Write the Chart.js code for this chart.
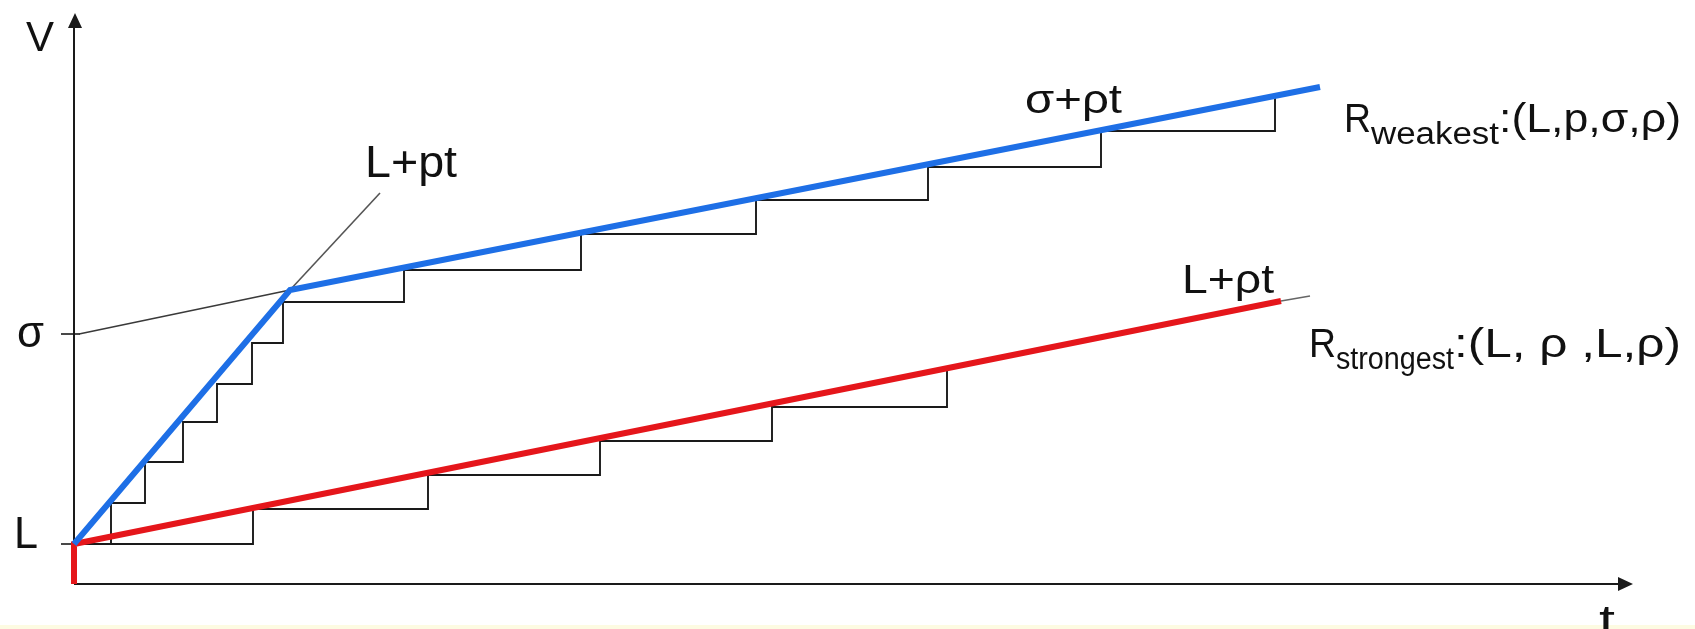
<!DOCTYPE html>
<html>
<head>
<meta charset="utf-8">
<script src="https://cdn.jsdelivr.net/npm/chart.js@4.4.1/dist/chart.umd.min.js"></script>
<style>
  html, body { margin: 0; padding: 0; background: #fff; overflow: hidden; }
  #wrap { position: relative; width: 1695px; height: 629px; }
</style>
</head>
<body>
<div id="wrap"><canvas id="chart"></canvas></div>
<script>
// t along the horizontal axis, V up the vertical one (arbitrary units)
const tMax = 155.9;
const vMax = 57.1;

const yTickValues = [4.0, 25.0];
const yTickLabels = ["L", "σ"];

// the two rate lines
const weakestT = [0, 21.6, 124.6];
const weakestV = [4.0, 29.4, 49.7];
const strongestT = [0, 0, 120.7];
const strongestV = [0, 4.0, 28.3];

// thin guides: sigma+rho*t back to the axis, L+pt past the bend, L+rho*t past the red end
const sigmaGuideT = [0.5, 21.6];
const sigmaGuideV = [25.0, 29.4];
const fastGuideT = [21.6, 30.6];
const fastGuideV = [29.4, 39.1];
const slowGuideT = [120.7, 123.6];
const slowGuideV = [28.3, 28.8];

// staircases (corner points)
const weakStepT = [0, 3.7, 3.7, 7.1, 7.1, 10.9, 10.9, 14.3, 14.3, 17.8, 17.8, 20.9, 20.9, 33.0, 33.0, 50.7, 50.7, 68.2, 68.2, 85.4, 85.4, 102.7, 102.7, 120.1, 120.1];
const weakStepV = [4.0, 4.0, 8.1, 8.1, 12.2, 12.2, 16.2, 16.2, 20.0, 20.0, 24.1, 24.1, 28.2, 28.2, 31.4, 31.4, 35.0, 35.0, 38.4, 38.4, 41.7, 41.7, 45.3, 45.3, 48.9];
const strongStepT = [0, 17.9, 17.9, 35.4, 35.4, 52.6, 52.6, 69.8, 69.8, 87.3, 87.3];
const strongStepV = [4.0, 4.0, 7.5, 7.5, 10.9, 10.9, 14.3, 14.3, 17.7, 17.7, 21.4];

const FONT = '"Liberation Sans", Arial, sans-serif';
const INK = "#111";

function pts(ts, vs) {
  return ts.map((t, i) => ({ x: t, y: vs[i] }));
}

function lineSet(ts, vs, color, width) {
  return {
    data: pts(ts, vs),
    showLine: true,
    borderColor: color,
    borderWidth: width,
    pointRadius: 0,
    fill: false,
    clip: false,
    borderJoinStyle: "miter",
  };
}

// draws text squeezed/stretched to a given width (the picture's lettering is wide)
function drawWide(ctx, text, x, y, size, width) {
  ctx.save();
  ctx.font = `${size}px ${FONT}`;
  const w = ctx.measureText(text).width;
  const sx = width ? width / w : 1;
  ctx.translate(x, y);
  ctx.scale(sx, 1);
  ctx.textAlign = "left";
  ctx.textBaseline = "alphabetic";
  ctx.fillStyle = INK;
  ctx.fillText(text, 0, 0);
  ctx.restore();
  return w * sx;
}

function arrowHead(ctx, x, y, dir) {
  ctx.beginPath();
  if (dir === "up") {
    ctx.moveTo(x, y);
    ctx.lineTo(x - 7, y + 15);
    ctx.lineTo(x + 7, y + 15);
  } else {
    ctx.moveTo(x, y);
    ctx.lineTo(x - 15, y - 7);
    ctx.lineTo(x - 15, y + 7);
  }
  ctx.closePath();
  ctx.fill();
}

const backdrop = {
  id: "backdrop",
  beforeDraw(chart) {
    const { ctx, width, height } = chart;
    ctx.save();
    ctx.fillStyle = "#fff";
    ctx.fillRect(0, 0, width, height);
    ctx.fillStyle = "#fdfbe2";
    ctx.fillRect(0, height - 4, width, 4);
    ctx.restore();
  },
};

const axesArrows = {
  id: "axesArrows",
  beforeDatasetsDraw(chart) {
    const { ctx, chartArea, scales } = chart;
    const x0 = scales.x.getPixelForValue(0);
    const y0 = scales.y.getPixelForValue(0);
    ctx.save();
    ctx.strokeStyle = "#1a1a1a";
    ctx.fillStyle = "#1a1a1a";
    ctx.lineWidth = 2;
    ctx.beginPath();
    ctx.moveTo(x0, y0);
    ctx.lineTo(x0, chartArea.top + 12);
    ctx.moveTo(x0, y0);
    ctx.lineTo(chartArea.right - 12, y0);
    ctx.stroke();
    arrowHead(ctx, x0 + 1, chartArea.top, "up");
    arrowHead(ctx, chartArea.right, y0, "right");

    // tick marks for L and sigma
    ctx.lineWidth = 1.6;
    yTickValues.forEach((v) => {
      const py = scales.y.getPixelForValue(v);
      ctx.beginPath();
      ctx.moveTo(x0 - 13, py);
      ctx.lineTo(x0 + 6, py);
      ctx.stroke();
    });
    ctx.restore();
  },
  afterDraw(chart) {
    const { ctx, chartArea, scales } = chart;
    const x0 = scales.x.getPixelForValue(0);
    const y0 = scales.y.getPixelForValue(0);

    // axis names
    drawWide(ctx, "V", x0 - 48, chartArea.top + 38, 43, 28);
    drawWide(ctx, "t", chartArea.right - 34, y0 + 52, 44, 16);

    // tick labels
    yTickLabels.forEach((lab, i) => {
      const py = scales.y.getPixelForValue(yTickValues[i]);
      if (lab === "L") drawWide(ctx, lab, x0 - 60, py + 4, 44, 24);
      else drawWide(ctx, lab, x0 - 57, py + 13, 44, 27);
    });

    const px = (t) => scales.x.getPixelForValue(t);
    const py = (v) => scales.y.getPixelForValue(v);

    // formula labels
    drawWide(ctx, "L+pt", px(29.1), py(40.7), 44, 92);
    drawWide(ctx, "σ+ρt", px(95.1), py(47.1), 41, 97);
    drawWide(ctx, "L+ρt", px(110.8), py(29.1), 41, 92);

    // rule labels
    let x = px(127.0);
    x += drawWide(ctx, "R", x, py(45.2), 40, 27);
    x += drawWide(ctx, "weakest", x, py(44.0), 31, 128);
    drawWide(ctx, ":(L,p,σ,ρ)", x, py(45.2), 40, px(160.7) - x);

    x = px(123.5);
    x += drawWide(ctx, "R", x, py(22.7), 40, 27);
    x += drawWide(ctx, "strongest", x, py(21.5), 31, 118);
    drawWide(ctx, ":(L, ρ ,L,ρ)", x, py(22.7), 40, px(160.7) - x);
  },
};

new Chart(document.getElementById("chart"), {
  type: "scatter",
  data: {
    datasets: [
      lineSet(weakestT, weakestV, "#1e6fe6", 6),
      lineSet(strongestT, strongestV, "#e5161b", 6),
      lineSet(sigmaGuideT, sigmaGuideV, "#3a3a3a", 1.6),
      lineSet(fastGuideT, fastGuideV, "#555", 1.6),
      lineSet(slowGuideT, slowGuideV, "#666", 1.6),
      lineSet(weakStepT, weakStepV, "#1a1a1a", 1.9),
      lineSet(strongStepT, strongStepV, "#1a1a1a", 1.9),
    ],
  },
  options: {
    responsive: true,
    maintainAspectRatio: false,
    animation: false,
    layout: { padding: { left: 74, right: 62, top: 13, bottom: 45 } },
    scales: {
      x: { type: "linear", min: 0, max: tMax, display: false },
      y: { type: "linear", min: 0, max: vMax, display: false },
    },
    plugins: {
      legend: { display: false },
      tooltip: { enabled: false },
    },
  },
  plugins: [backdrop, axesArrows],
});
</script>
</body>
</html>
